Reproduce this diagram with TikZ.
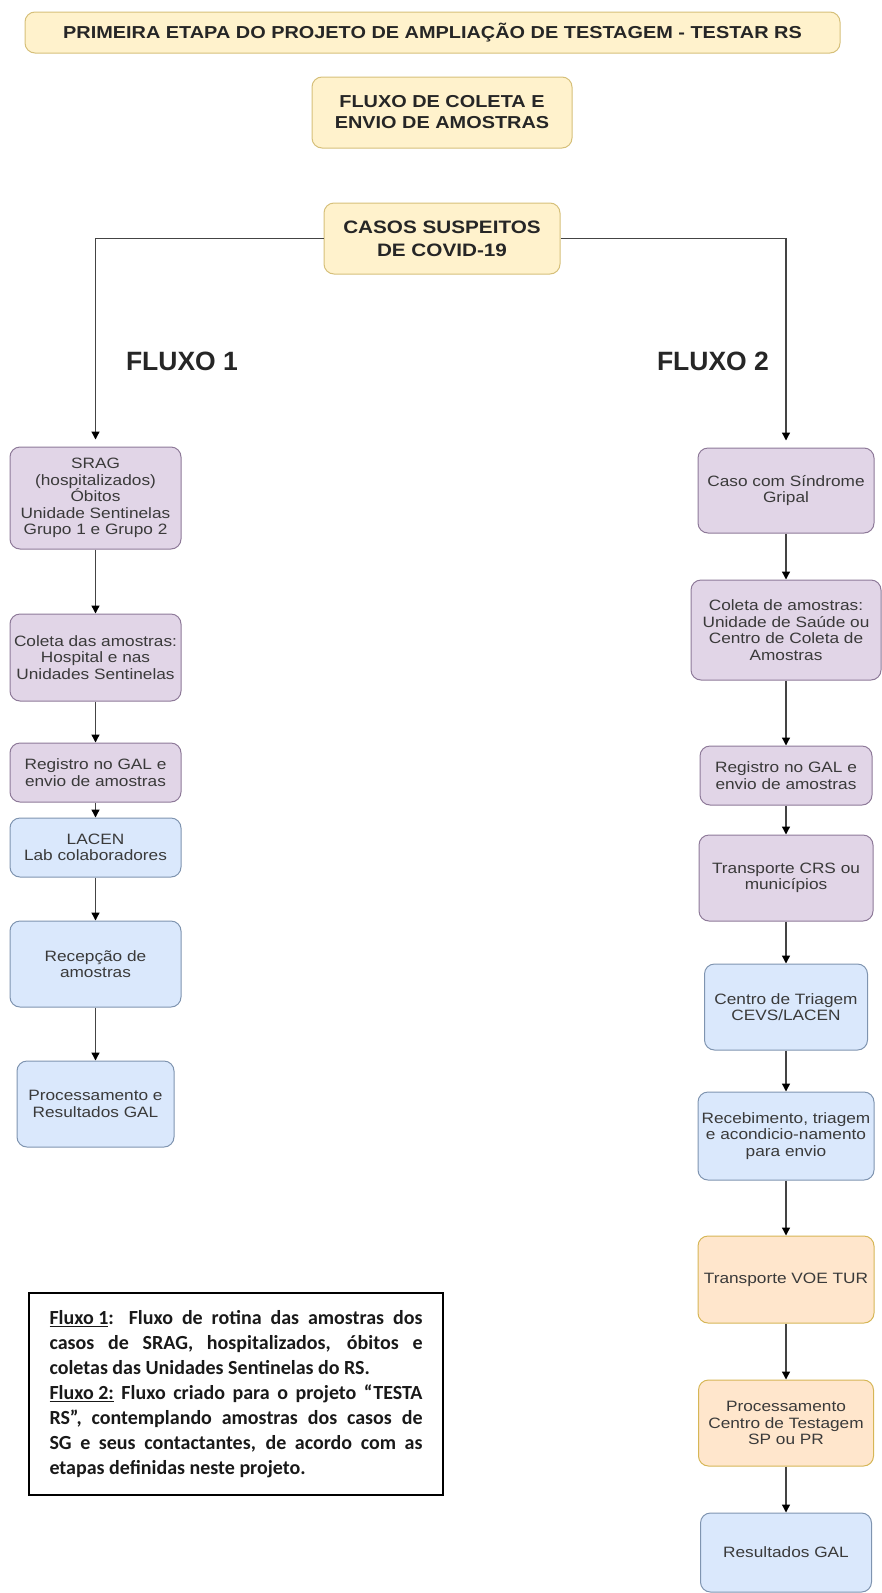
\documentclass[tikz,border=0pt]{standalone}
\usepackage{fontspec}
\setmainfont{Liberation Sans}
\newfontfamily\boxfont[FakeStretch=1.15]{Liberation Sans}
\newfontfamily\notefont{Carlito}
\usepackage{tikz}
\usetikzlibrary{arrows.meta}
\definecolor{ylwfill}{HTML}{FFF2CC}
\definecolor{ylwdraw}{HTML}{D6C07A}
\definecolor{purfill}{HTML}{E1D5E7}
\definecolor{purdraw}{HTML}{8E7A99}
\definecolor{blufill}{HTML}{DAE8FC}
\definecolor{bludraw}{HTML}{7F94B0}
\definecolor{orgfill}{HTML}{FFE6CC}
\definecolor{orgdraw}{HTML}{D6B656}
\definecolor{txtgray}{HTML}{3A3A3A}
\definecolor{linegray}{HTML}{444444}
\tikzset{
  base/.style={draw,rounded corners=10pt,line width=1pt,align=center,inner sep=2pt,
    text=txtgray,font=\boxfont\fontsize{15}{16.5}\selectfont},
  ybox/.style={base,fill=ylwfill,draw=ylwdraw,text=black!85,
    font=\boxfont\bfseries\fontsize{17.3}{21}\selectfont},
  pbox/.style={base,fill=purfill,draw=purdraw},
  bbox/.style={base,fill=blufill,draw=bludraw},
  obox/.style={base,fill=orgfill,draw=orgdraw},
  sz/.style 2 args={minimum width=#1,minimum height=#2},
  flabel/.style={font=\bfseries\fontsize{26.5}{30}\selectfont,text=black!85},
  conn/.style={draw=linegray,line width=1.3pt,-{Triangle[width=8pt,length=8pt,color=black]}},
}

\begin{document}
\begin{tikzpicture}[x=1pt,y=-1pt]
    \useasboundingbox (0,0) rectangle (882,1593);
    % top
    \node[ybox,sz={815}{41}] (title) at (432.5,32.5) {PRIMEIRA ETAPA DO PROJETO DE AMPLIAÇÃO DE TESTAGEM - TESTAR RS};
    \node[ybox,sz={260}{71}] (fluxo) at (442,112.5) {FLUXO DE COLETA E\\ENVIO DE AMOSTRAS};
    \node[ybox,sz={236}{71},font=\boxfont\bfseries\fontsize{18}{23}\selectfont] (casos) at (442,238.5) {CASOS SUSPEITOS\\DE COVID-19};
    \node[flabel] (lbl1) at (182,361) {FLUXO 1};
    \node[flabel] (lbl2) at (713,361) {FLUXO 2};
    % fluxo 1
    \node[pbox,sz={171}{102}] (srag) at (95.5,498) {SRAG\\(hospitalizados)\\Óbitos\\Unidade Sentinelas\\Grupo 1 e Grupo 2};
    \node[pbox,sz={171}{87}] (col1) at (95.5,657.5) {Coleta das amostras:\\Hospital e nas\\Unidades Sentinelas};
    \node[pbox,sz={171}{59}] (reg1) at (95.5,772.5) {Registro no GAL e\\envio de amostras};
    \node[bbox,sz={171}{59}] (lacen) at (95.5,847.5) {LACEN\\Lab colaboradores};
    \node[bbox,sz={171}{86}] (rec1) at (95.5,964) {Recepção de\\amostras};
    \node[bbox,sz={157}{86}] (proc1) at (95.5,1104) {Processamento e\\Resultados GAL};
    % fluxo 2
    \node[pbox,sz={176}{85}] (sg) at (786,490.5) {Caso com Síndrome\\Gripal};
    \node[pbox,sz={190}{100}] (col2) at (786,630) {Coleta de amostras:\\Unidade de Saúde ou\\Centro de Coleta de\\Amostras};
    \node[pbox,sz={172}{59}] (reg2) at (786,775.5) {Registro no GAL e\\envio de amostras};
    \node[pbox,sz={174}{86}] (trans) at (786,878) {Transporte CRS ou\\municípios};
    \node[bbox,sz={163}{86}] (triag) at (786,1007) {Centro de Triagem\\CEVS/LACEN};
    \node[bbox,sz={176}{88}] (receb) at (786,1136) {Recebimento, triagem\\e acondicio-namento\\para envio};
    \node[obox,sz={176}{87}] (voe) at (786,1279.5) {Transporte VOE TUR};
    \node[obox,sz={175}{86}] (proc2) at (786,1423) {Processamento\\Centro de Testagem\\SP ou PR};
    \node[bbox,sz={171}{79}] (res) at (786,1552.5) {Resultados GAL};
    % legenda
    \node[draw=black,line width=1.8pt,text width=373pt,align=justify,inner xsep=20.5pt,
      minimum height=202,text=black!90,font=\notefont\bfseries\fontsize{20}{25}\selectfont] (nota) at (236,1394)
      {\underline{Fluxo 1}: Fluxo de rotina das amostras dos\linebreak casos de SRAG, hospitalizados, óbitos e\linebreak coletas das Unidades Sentinelas do RS.\par
       \underline{Fluxo 2:} Fluxo criado para o projeto “TESTA\linebreak RS”, contemplando amostras dos casos de\linebreak SG e seus contactantes, de acordo com as\linebreak etapas definidas neste projeto.};
    % ligacoes
    \draw[conn,shorten >=7pt] (casos.west) -| (srag);
    \draw[conn,shorten >=7pt] (casos.east) -| (sg);
    \path[conn]
    (srag) edge (col1)
    (col1) edge (reg1)
    (reg1) edge (lacen)
    (lacen) edge (rec1)
    (rec1) edge (proc1)
    (sg) edge (col2)
    (col2) edge (reg2)
    (reg2) edge (trans)
    (trans) edge (triag)
    (triag) edge (receb)
    (receb) edge (voe)
    (voe) edge (proc2)
    (proc2) edge (res)
    ;
\end{tikzpicture}
\end{document}
